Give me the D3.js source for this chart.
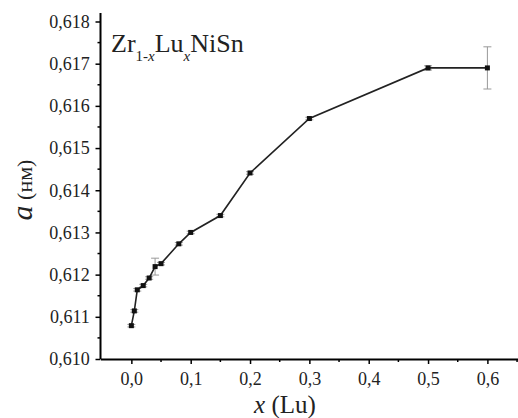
<!DOCTYPE html>
<html>
<head>
<meta charset="utf-8">
<script src="https://cdn.jsdelivr.net/npm/d3@7"></script>
<style>
body { margin: 0; background: #fff; }
text { font-family: "Liberation Serif", "Times New Roman", serif; fill: #222; }
</style>
</head>
<body>
<script>
// composition x (Lu) and lattice parameter a (nm)
var xs = [0.0, 0.005, 0.01, 0.02, 0.03, 0.04, 0.05, 0.08, 0.10, 0.15, 0.20, 0.30, 0.50, 0.60];
var as = [0.61079, 0.61114, 0.61164, 0.61174, 0.61192, 0.61219, 0.61226, 0.61273, 0.61300, 0.61340, 0.61441, 0.61570, 0.61690, 0.61690];
var errs = [0.00003, 0.00003, 0.00003, 0.00003, 0.00003, 0.0002, 0.00003, 0.00003, 0.00003, 0.00003, 0.00003, 0.00003, 0.00005, 0.0005];
var xTicks = [0.0, 0.1, 0.2, 0.3, 0.4, 0.5, 0.6];
var yTicks = [0.610, 0.611, 0.612, 0.613, 0.614, 0.615, 0.616, 0.617, 0.618];

var W = 518, H = 418;
var svg = d3.select("body").append("svg").attr("width", W).attr("height", H);

var x = d3.scaleLinear().domain([-0.052, 0.66]).range([100.5, 523]);
var y = d3.scaleLinear().domain([0.610, 0.618]).range([359, 21.5]);

var fmt = function (d) { return d3.format(".1f")(d).replace(".", ","); };
var fmtY = function (d) { return d3.format(".3f")(d).replace(".", ","); };

var gx = svg.append("g").attr("transform", "translate(0," + y(0.610) + ")")
    .call(d3.axisBottom(x).tickValues(xTicks).tickFormat(fmt).tickSize(5).tickSizeOuter(0));
gx.attr("font-family", null);
gx.select(".domain").attr("stroke-width", 2);
gx.selectAll(".tick line").attr("stroke-width", 1.5);
gx.selectAll(".tick text").attr("font-size", 18).attr("dy", "1.0em");
// minor x ticks
gx.selectAll(".minor").data(d3.range(0.05, 0.66, 0.1)).enter().append("line")
    .attr("class", "minor").attr("x1", function (d) { return x(d); }).attr("x2", function (d) { return x(d); })
    .attr("y1", 0).attr("y2", 3).attr("stroke", "#000").attr("stroke-width", 1.5);

var gy = svg.append("g").attr("transform", "translate(" + x(-0.052) + ",0)")
    .call(d3.axisLeft(y).tickValues(yTicks).tickFormat(fmtY).tickSize(5).tickSizeOuter(0));
gy.attr("font-family", null);
gy.select(".domain").attr("stroke-width", 2);
gy.selectAll(".tick line").attr("stroke-width", 1.5);
gy.selectAll(".tick text").attr("font-size", 18).attr("dx", "-0.15em");
gy.selectAll(".minor").data(d3.range(0.6105, 0.618, 0.001)).enter().append("line")
    .attr("class", "minor").attr("y1", function (d) { return y(d); }).attr("y2", function (d) { return y(d); })
    .attr("x1", 0).attr("x2", -3).attr("stroke", "#000").attr("stroke-width", 1.5);
gy.select(".domain").attr("d", "M0," + y(0.6182) + "V" + y(0.610));

var pts = xs.map(function (d, i) { return { x: d, a: as[i], e: errs[i] }; });

// error bars
var eb = svg.append("g").attr("stroke", "#999").attr("stroke-width", 1);
eb.selectAll("line.v").data(pts).enter().append("line")
    .attr("x1", function (d) { return x(d.x); }).attr("x2", function (d) { return x(d.x); })
    .attr("y1", function (d) { return y(d.a + d.e); }).attr("y2", function (d) { return y(d.a - d.e); });
eb.selectAll("line.t").data(pts).enter().append("line")
    .attr("x1", function (d) { return x(d.x) - 4; }).attr("x2", function (d) { return x(d.x) + 4; })
    .attr("y1", function (d) { return y(d.a + d.e); }).attr("y2", function (d) { return y(d.a + d.e); });
eb.selectAll("line.b").data(pts).enter().append("line")
    .attr("x1", function (d) { return x(d.x) - 4; }).attr("x2", function (d) { return x(d.x) + 4; })
    .attr("y1", function (d) { return y(d.a - d.e); }).attr("y2", function (d) { return y(d.a - d.e); });

var line = d3.line().x(function (d) { return x(d.x); }).y(function (d) { return y(d.a); });
svg.append("path").datum(pts).attr("d", line).attr("fill", "none").attr("stroke", "#222").attr("stroke-width", 1.6);

svg.selectAll("rect.pt").data(pts).enter().append("rect").attr("class", "pt")
    .attr("x", function (d) { return x(d.x) - 2.5; }).attr("y", function (d) { return y(d.a) - 2.5; })
    .attr("width", 5).attr("height", 5).attr("fill", "#111");

// title
var t = svg.append("text").attr("x", 111).attr("y", 52).attr("font-size", 26);
t.append("tspan").text("Zr");
t.append("tspan").attr("font-size", 15).attr("dy", 9).text("1-");
t.append("tspan").attr("font-size", 15).attr("font-style", "italic").text("x");
t.append("tspan").attr("dy", -9).text("Lu");
t.append("tspan").attr("font-size", 15).attr("font-style", "italic").attr("dy", 9).text("x");
t.append("tspan").attr("dy", -9).text("NiSn");

// axis titles
var xl = svg.append("text").attr("x", 285).attr("y", 413).attr("text-anchor", "middle").attr("font-size", 25);
xl.append("tspan").attr("font-style", "italic").text("x");
xl.append("tspan").text(" (Lu)");

var yl = svg.append("text").attr("transform", "translate(32,190) rotate(-90)").attr("text-anchor", "middle").attr("font-size", 22);
yl.append("tspan").attr("font-style", "italic").attr("font-size", 30).text("a");
yl.append("tspan").attr("font-size", 22).text(" (нм)");
</script>
</body>
</html>
